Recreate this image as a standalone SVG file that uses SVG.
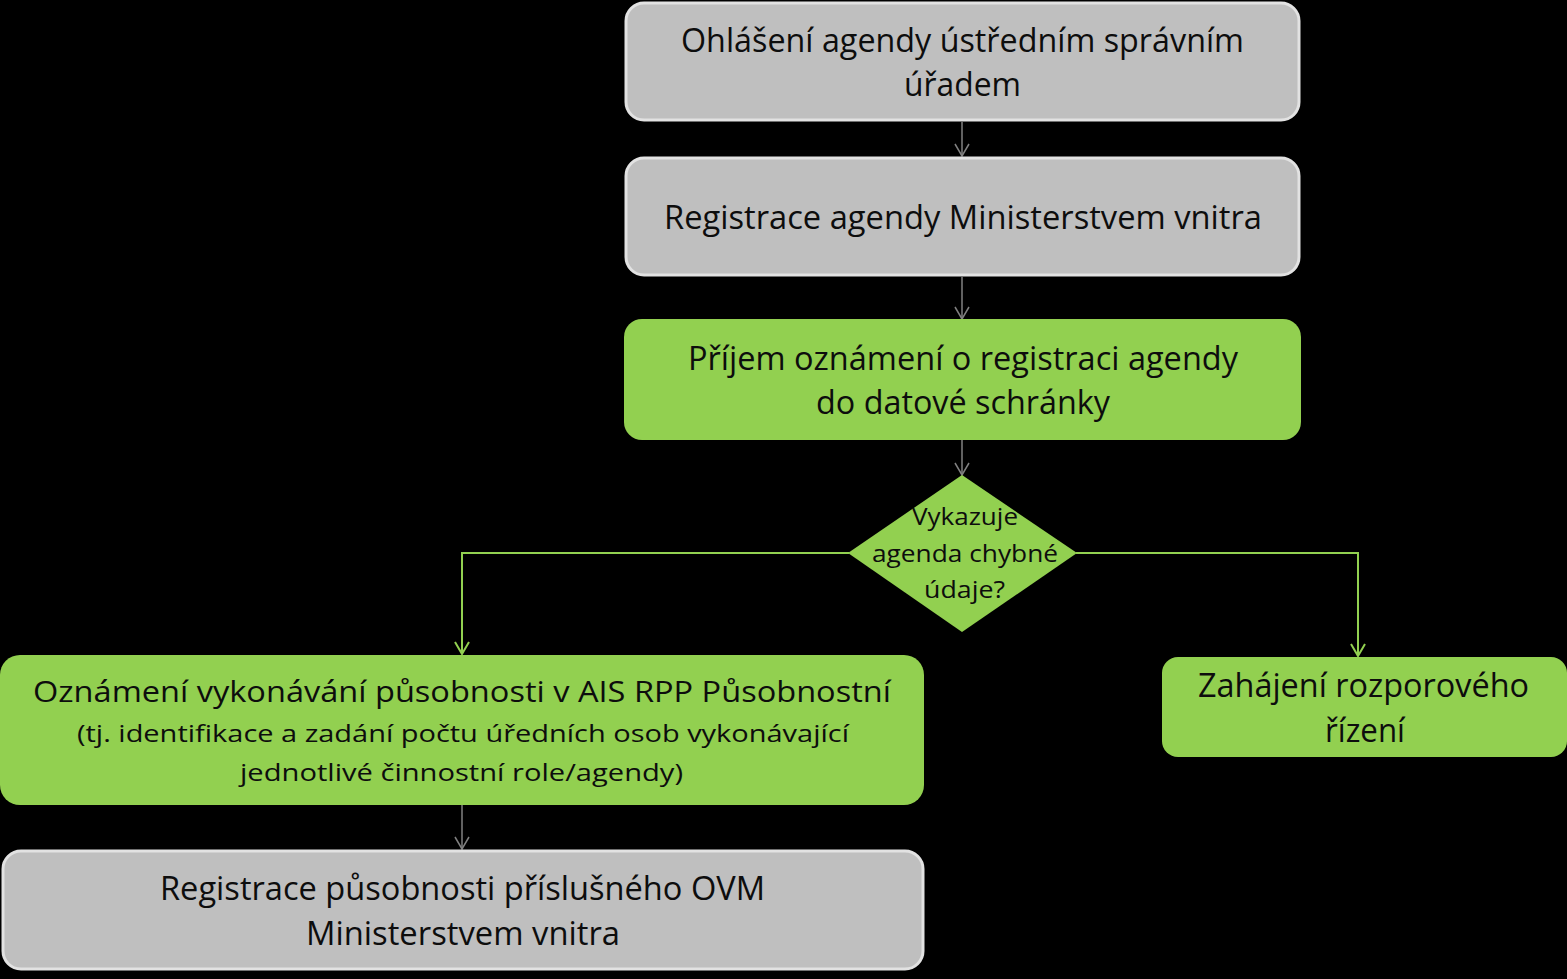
<svg xmlns="http://www.w3.org/2000/svg" width="1567" height="979" viewBox="0 0 1567 979">
<defs>
<style>
.gray{fill:#bfbfbf;stroke:#e2e2e2;stroke-width:3}
.green{fill:#92d050}
text{font-family:"Open Sans","Noto Sans","Liberation Sans",sans-serif;fill:#0d0d0d;text-anchor:middle}
.t32{font-size:32px}
.t29{font-size:29px}
.t24{font-size:24px}
.cg{stroke:#808080;stroke-width:1.5;fill:none}
.cn{stroke:#92d050;stroke-width:2;fill:none}
</style>
<marker id="ag" viewBox="0 0 16 16" refX="14" refY="8" markerWidth="16" markerHeight="16" markerUnits="userSpaceOnUse" orient="auto">
<path d="M2,1 L14,8 L2,15" fill="none" stroke="#808080" stroke-width="1.5"/>
</marker>
<marker id="an" viewBox="0 0 16 16" refX="14" refY="8" markerWidth="16" markerHeight="16" markerUnits="userSpaceOnUse" orient="auto">
<path d="M2,1 L14,8 L2,15" fill="none" stroke="#92d050" stroke-width="2"/>
</marker>
</defs>
<rect width="1567" height="979" fill="#000"/>
<g id="connectors">
<line class="cg" x1="962" y1="122" x2="962" y2="156" marker-end="url(#ag)"/>
<line class="cg" x1="962" y1="277" x2="962" y2="319" marker-end="url(#ag)"/>
<line class="cg" x1="962" y1="440" x2="962" y2="475" marker-end="url(#ag)"/>
<line class="cg" x1="462" y1="805" x2="462" y2="849" marker-end="url(#ag)"/>
<polyline class="cn" points="849,553 462,553 462,654" marker-end="url(#an)"/>
<polyline class="cn" points="1076,553 1358,553 1358,656" marker-end="url(#an)"/>
</g>
<g id="n1">
<rect class="gray" x="626" y="3" width="673" height="117" rx="18"/>
<text class="t32" x="962.5" y="52" textLength="563" lengthAdjust="spacingAndGlyphs">Ohlášení agendy ústředním správním</text>
<text class="t32" x="962.5" y="96" textLength="117" lengthAdjust="spacingAndGlyphs">úřadem</text>
</g>
<g id="n2">
<rect class="gray" x="626" y="158" width="673" height="117" rx="18"/>
<text class="t32" x="963" y="229" textLength="598" lengthAdjust="spacingAndGlyphs">Registrace agendy Ministerstvem vnitra</text>
</g>
<g id="n3">
<rect class="green" x="624" y="319" width="677" height="121" rx="18"/>
<text class="t32" x="963" y="370" textLength="550" lengthAdjust="spacingAndGlyphs">Příjem oznámení o registraci agendy</text>
<text class="t32" x="963" y="414" textLength="294" lengthAdjust="spacingAndGlyphs">do datové schránky</text>
</g>
<g id="n4">
<polygon class="green" points="962,475 1077,553 962,632 848,553"/>
<text class="t24" x="965" y="525" textLength="106" lengthAdjust="spacingAndGlyphs">Vykazuje</text>
<text class="t24" x="965" y="562" textLength="186" lengthAdjust="spacingAndGlyphs">agenda chybné</text>
<text class="t24" x="964.5" y="598" textLength="81" lengthAdjust="spacingAndGlyphs">údaje?</text>
</g>
<g id="n5">
<rect class="green" x="0" y="655" width="924" height="150" rx="20"/>
<text class="t29" x="462" y="702" textLength="858" lengthAdjust="spacingAndGlyphs">Oznámení vykonávání působnosti v AIS RPP Působnostní</text>
<text class="t24" x="463" y="742" textLength="772" lengthAdjust="spacingAndGlyphs">(tj. identifikace a zadání počtu úředních osob vykonávající</text>
<text class="t24" x="461.5" y="781" textLength="443" lengthAdjust="spacingAndGlyphs">jednotlivé činnostní role/agendy)</text>
</g>
<g id="n6">
<rect class="green" x="1162" y="657" width="405" height="100" rx="16"/>
<text class="t32" x="1363.5" y="697" textLength="331" lengthAdjust="spacingAndGlyphs">Zahájení rozporového</text>
<text class="t32" x="1365" y="742" textLength="80" lengthAdjust="spacingAndGlyphs">řízení</text>
</g>
<g id="n7">
<rect class="gray" x="3" y="851" width="920" height="118" rx="18"/>
<text class="t32" x="462.5" y="900" textLength="605" lengthAdjust="spacingAndGlyphs">Registrace působnosti příslušného OVM</text>
<text class="t32" x="463" y="945" textLength="314" lengthAdjust="spacingAndGlyphs">Ministerstvem vnitra</text>
</g>
</svg>
